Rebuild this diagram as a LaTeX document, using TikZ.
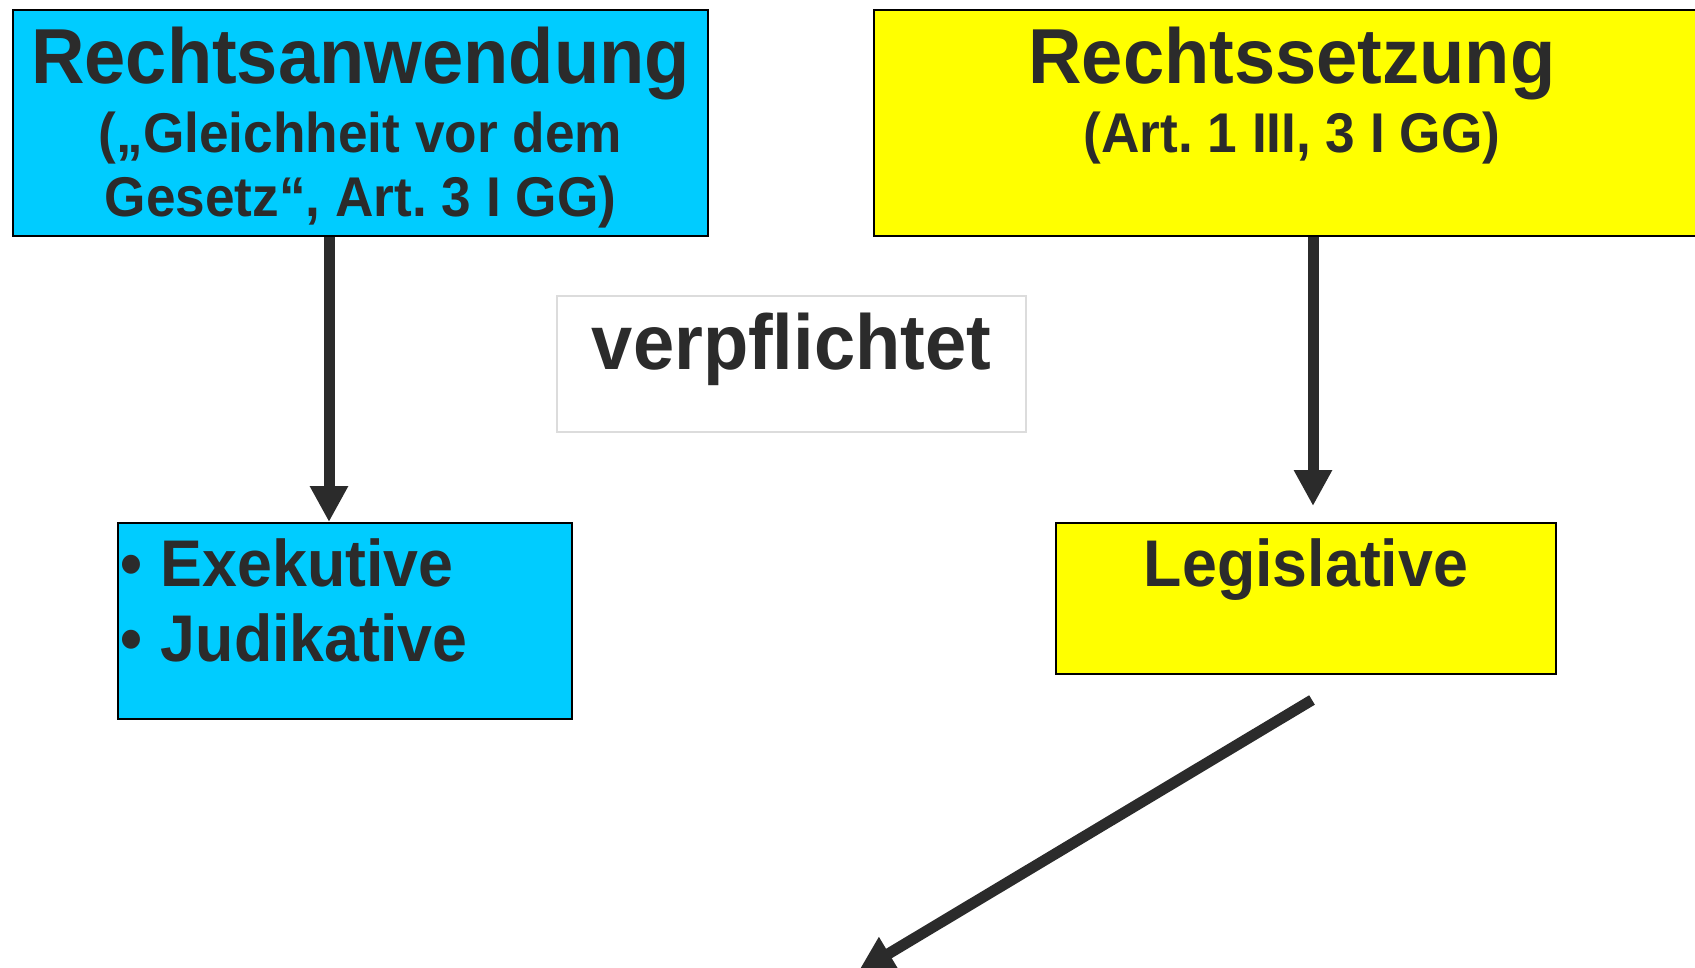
\documentclass[tikz,border=0pt]{standalone}
\usepackage{fontspec}
\setmainfont{Liberation Sans}[FakeStretch=0.95]
\usetikzlibrary{arrows.meta}
\definecolor{ink}{HTML}{2B2B2B}
\definecolor{boxcyan}{HTML}{00CCFF}
\definecolor{boxyellow}{HTML}{FFFF00}
\definecolor{framegray}{HTML}{DCDCDC}
\begin{document}
\begin{tikzpicture}[x=1pt,y=-1pt,
  box/.style={draw=black, line width=2pt, inner sep=0pt, anchor=north west,
              text=ink, font=\bfseries},
  plainframe/.style={draw=framegray, line width=2pt, inner sep=0pt, anchor=north west,
              text=ink, font=\bfseries},
  flow/.style={draw=ink, line width=11pt, -{Triangle[length=36pt,width=36pt]}}]
\useasboundingbox (0,0) rectangle (1695,968);

% upper row: the two kinds of law-making activity
\node[box, fill=boxcyan, minimum width=695pt, text height=74pt, text depth=152pt]
  (ra) at (12,9)
  {\parbox[t]{695pt}{\centering
    \fontsize{78}{78}\selectfont Rechtsanwendung\\[5pt]
    \fontsize{56}{64}\selectfont („Gleichheit vor dem\\
    Gesetz“, Art.~3~I~GG)}};

\node[box, fill=boxyellow, minimum width=836pt, text height=74pt, text depth=152pt]
  (rs) at (873,9)
  {\parbox[t]{836pt}{\centering
    \fontsize{78}{78}\selectfont Rechtssetzung\\[5pt]
    \fontsize{56}{64}\selectfont (Art.~1~III, 3~I~GG)}};

% middle label
\node[plainframe, minimum width=469pt, text height=74pt, text depth=62pt]
  (vp) at (556,295)
  {\parbox[t]{469pt}{\centering\fontsize{78}{78}\selectfont verpflichtet}};

% lower row: the bound state powers
\node[box, fill=boxcyan, minimum width=454pt, text height=63pt, text depth=133pt]
  (ex) at (117,522)
  {\parbox[t]{454pt}{\raggedright\fontsize{66}{75}\selectfont
    \makebox[43pt][l]{\hspace{2pt}•}Exekutive\\
    \makebox[43pt][l]{\hspace{2pt}•}Judikative}};

\node[box, fill=boxyellow, minimum width=500pt, text height=63pt, text depth=88pt]
  (le) at (1055,522)
  {\parbox[t]{500pt}{\centering\fontsize{66}{66}\selectfont Legislative}};

% connectors
\coordinate (lawend) at (858,972);
\draw[flow] ([xshift=-31.5pt]ra.south) -- ([xshift=-16pt]ex.north);
\draw[flow] ([xshift=21pt]rs.south) -- ([xshift=7pt,yshift=16pt]le.north);
\draw[flow] ([xshift=6pt,yshift=-25pt]le.south) -- (lawend);
\end{tikzpicture}
\end{document}
